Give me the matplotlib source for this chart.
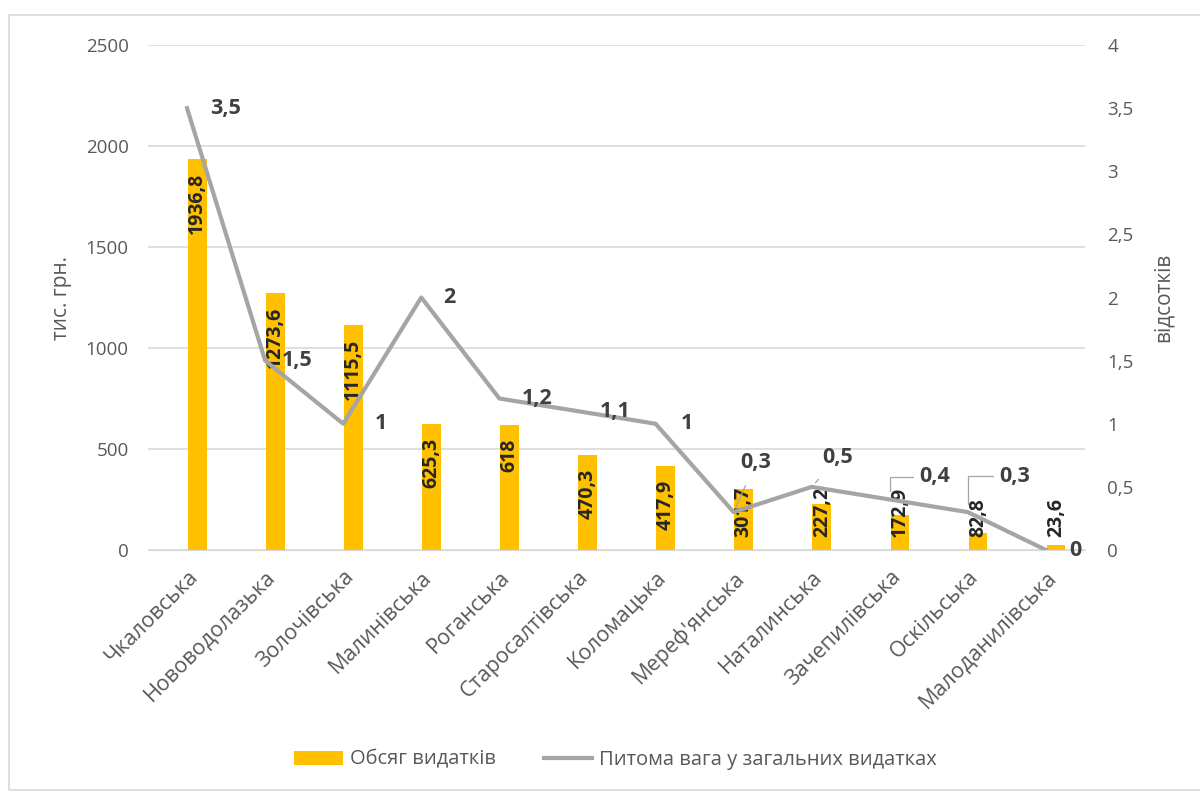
import matplotlib
matplotlib.use("Agg")
import matplotlib.pyplot as plt
from matplotlib.patches import Rectangle
from matplotlib.ticker import FuncFormatter

plt.rcParams['font.family'] = ['Open Sans', 'DejaVu Sans']

categories = ["Чкаловська", "Нововодолазька", "Золочівська", "Малинівська",
              "Роганська", "Старосалтівська", "Коломацька", "Мереф'янська",
              "Наталинська", "Зачепилівська", "Оскільська", "Малоданилівська"]
spending = [1936.8, 1273.6, 1115.5, 625.3, 618, 470.3, 417.9, 301.7,
            227.2, 172.9, 82.8, 23.6]
share = [3.5, 1.5, 1, 2, 1.2, 1.1, 1, 0.3, 0.5, 0.4, 0.3, 0]
left_ticks = [0, 500, 1000, 1500, 2000, 2500]
right_ticks = [0, 0.5, 1, 1.5, 2, 2.5, 3, 3.5, 4]

BAR = "#FFC000"
LINE = "#A5A5A5"
TXT = "#595959"
LBL = "#262626"

def fmt(v):
    return ("%g" % v).replace(".", ",")

fig = plt.figure(figsize=(12, 7.94), dpi=100)
fig.patches.append(Rectangle((9/1200, 1-790/794), 1.2, (790-15)/794,
                             transform=fig.transFigure, fill=False,
                             edgecolor="#D9D9D9", linewidth=1.2))
ax = fig.add_axes([148/1200, 1-550/794, (1085-148)/1200, (550-45)/794])
ax2 = ax.twinx()

x = list(range(len(categories)))
bx = [i + 0.13 for i in x]
bars = ax.bar(bx, spending, width=0.24, color=BAR, zorder=2,
              label="Обсяг видатків")
ax.set_xlim(-0.5, len(categories) - 0.5)
ax.set_ylim(0, 2500)
ax.set_yticks(left_ticks)
ax.yaxis.set_major_formatter(FuncFormatter(lambda v, p: "%d" % v))
ax.grid(axis='y', color="#D9D9D9", linewidth=1.2, zorder=0)
ax.set_axisbelow(True)
for s in ax.spines.values():
    s.set_visible(False)
for s in ax2.spines.values():
    s.set_visible(False)
ax.spines['bottom'].set_visible(True)
ax.spines['bottom'].set_color("#D9D9D9")
ax.tick_params(axis='both', length=0, colors=TXT)
ax.tick_params(axis='y', labelsize=13.5, pad=14)
ax.set_xticks(x)
ax.set_xticklabels(categories, rotation=45, ha='right',
                   rotation_mode='anchor', fontsize=15.5, color=TXT)
ax.tick_params(axis='x', pad=12)
ax.set_ylabel("тис. грн.", fontsize=15, color=TXT, labelpad=10)

for xi, v in zip(bx, spending):
    if v > 320:
        ax.annotate(fmt(v), (xi, v), xytext=(0, -10), textcoords='offset points',
                    rotation=90, ha='center', va='top', fontsize=14,
                    fontweight='bold', color=LBL, zorder=5)
    else:
        ax.annotate(fmt(v), (xi, 65), rotation=90, ha='center', va='bottom',
                    fontsize=14, fontweight='bold', color=LBL, zorder=5)

line, = ax2.plot(x, share, color=LINE, linewidth=3, zorder=4,
                 label="Питома вага у загальних видатках")
ax2.set_ylim(0, 4)
ax2.set_yticks(right_ticks)
ax2.yaxis.set_major_formatter(FuncFormatter(lambda v, p: fmt(v)))
ax2.tick_params(axis='y', length=0, colors=TXT, labelsize=13.5, pad=16)
ax2.set_ylabel("відсотків", fontsize=15, color=TXT, labelpad=14)

offsets = [(23, 0), (17, 0), (32, 0), (22, 0), (22, 0), (22, 0), (25, 0),
           (7, 50), (11, 29), (29, 23), (31, 36), (23, 0)]
leaders = [None, None, None, None, None, None, None,
           'straight', 'straight', 'angle', 'angle', None]
for i, (xi, v) in enumerate(zip(x, share)):
    dx, dy = offsets[i]
    kw = {}
    if leaders[i] == 'straight':
        kw['arrowprops'] = dict(arrowstyle='-', color=LINE, lw=0.9,
                                shrinkA=8, shrinkB=4)
    elif leaders[i] == 'angle':
        kw['arrowprops'] = dict(arrowstyle='-', color=LINE, lw=0.9,
                                connectionstyle='angle,angleA=0,angleB=90,rad=0',
                                shrinkA=2, shrinkB=6)
    ax2.annotate(fmt(v), (xi, v), xytext=(dx, dy), textcoords='offset pixels',
                 ha='left', va='center', fontsize=15.5, fontweight='bold',
                 color="#404040", zorder=6, **kw)

handles = [bars, line]
fig.legend(handles, [h.get_label() for h in handles], loc='center',
           bbox_to_anchor=(0.513, 0.043), ncol=2, frameon=False,
           fontsize=14.5, handlelength=2.4, columnspacing=2.4,
           labelcolor=TXT, handletextpad=0.35)

fig.savefig("out.png", dpi=100)
